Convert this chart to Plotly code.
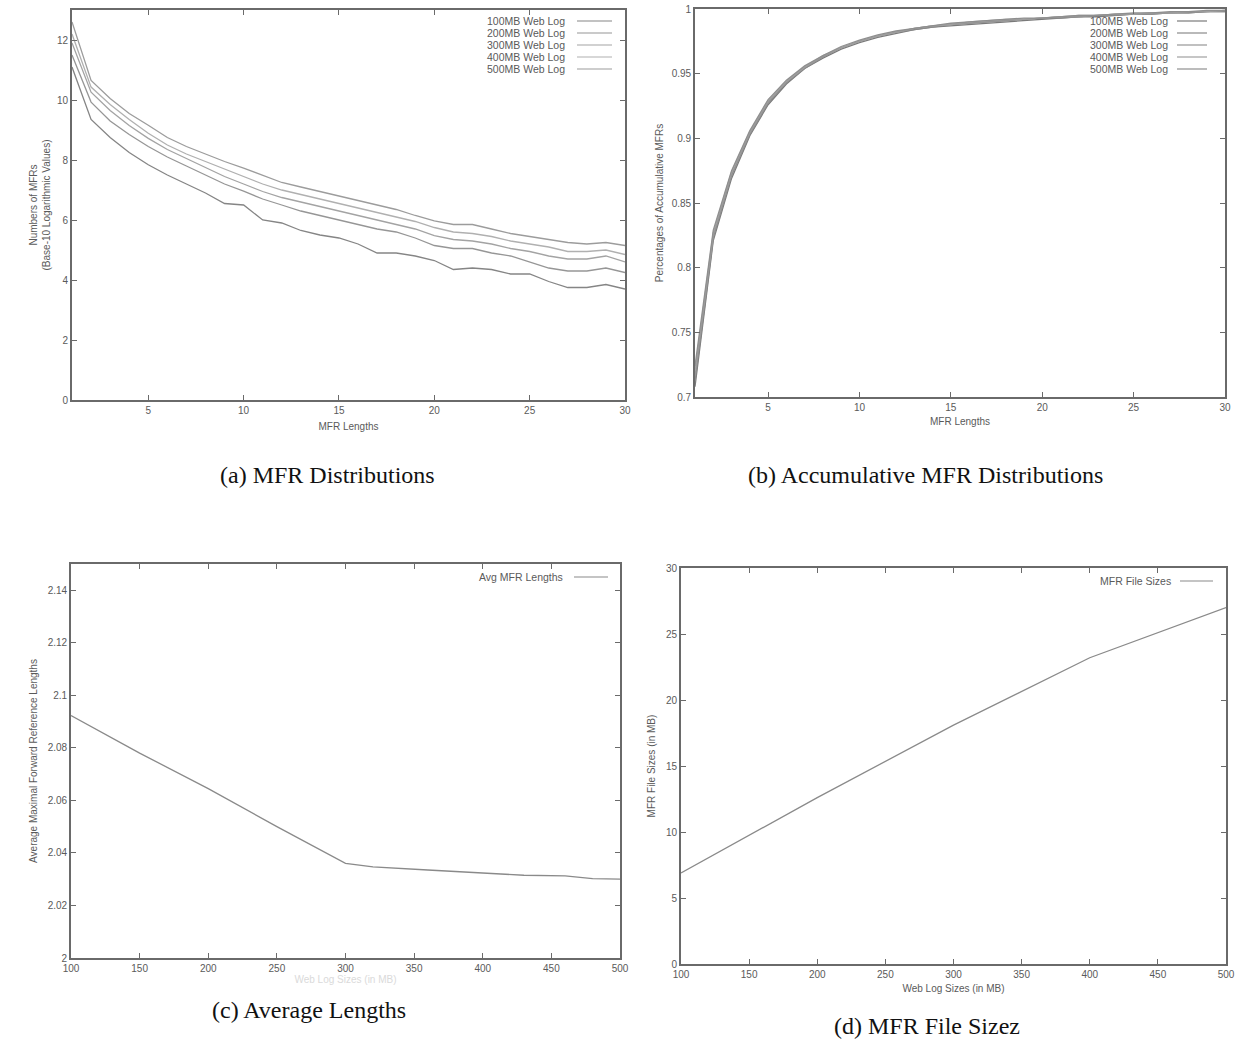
import plotly.graph_objects as go

W, H = 1238, 1042

# ---------------- data ----------------
mfr_lengths = list(range(1, 31))
series_names = ["100MB Web Log", "200MB Web Log", "300MB Web Log", "400MB Web Log", "500MB Web Log"]

# (a) MFR distributions (base-10 log of counts)
dist_100 = [11.1, 9.35, 8.75, 8.25, 7.84, 7.5, 7.2, 6.9, 6.55, 6.5, 6.0, 5.9, 5.65, 5.5, 5.4,
            5.2, 4.9, 4.9, 4.8, 4.65, 4.35, 4.4, 4.35, 4.2, 4.2, 3.95, 3.75, 3.75, 3.85, 3.7]
dist_200 = [11.5, 9.93, 9.3, 8.85, 8.45, 8.1, 7.8, 7.5, 7.2, 6.96, 6.7, 6.5, 6.3, 6.15, 6.0,
            5.85, 5.7, 5.6, 5.4, 5.15, 5.05, 5.05, 4.9, 4.8, 4.6, 4.4, 4.3, 4.3, 4.4, 4.25]
dist_300 = [11.9, 10.26, 9.65, 9.15, 8.72, 8.35, 8.05, 7.75, 7.45, 7.2, 6.95, 6.75, 6.6, 6.45, 6.3,
            6.15, 6.0, 5.85, 5.7, 5.48, 5.35, 5.3, 5.2, 5.05, 4.95, 4.8, 4.7, 4.7, 4.8, 4.6]
dist_400 = [12.2, 10.43, 9.85, 9.35, 8.89, 8.5, 8.2, 7.95, 7.7, 7.46, 7.2, 7.0, 6.85, 6.7, 6.55,
            6.4, 6.25, 6.1, 5.95, 5.75, 5.6, 5.55, 5.45, 5.3, 5.2, 5.1, 4.95, 4.95, 5.0, 4.85]
dist_500 = [12.6, 10.65, 10.05, 9.55, 9.16, 8.75, 8.45, 8.2, 7.95, 7.73, 7.5, 7.25, 7.1, 6.95, 6.8,
            6.65, 6.5, 6.35, 6.15, 5.97, 5.85, 5.85, 5.7, 5.55, 5.45, 5.35, 5.25, 5.2, 5.25, 5.15]

# (b) accumulative MFR distributions
acc_100 = [0.708, 0.821, 0.869, 0.902, 0.926, 0.942, 0.954, 0.962, 0.969, 0.974, 0.978, 0.981, 0.984, 0.986, 0.987,
           0.988, 0.989, 0.990, 0.991, 0.992, 0.993, 0.994, 0.994, 0.995, 0.996, 0.996, 0.997, 0.997, 0.998, 0.998]
acc_200 = [0.712, 0.823, 0.871, 0.903, 0.927, 0.943, 0.954, 0.963, 0.970, 0.975, 0.979, 0.982, 0.984, 0.986, 0.988,
           0.989, 0.990, 0.991, 0.992, 0.993, 0.993, 0.994, 0.995, 0.995, 0.996, 0.996, 0.997, 0.997, 0.998, 0.998]
acc_300 = [0.716, 0.825, 0.872, 0.904, 0.928, 0.944, 0.955, 0.963, 0.970, 0.975, 0.979, 0.982, 0.985, 0.987, 0.988,
           0.989, 0.990, 0.991, 0.992, 0.993, 0.994, 0.994, 0.995, 0.996, 0.996, 0.997, 0.997, 0.998, 0.998, 0.999]
acc_400 = [0.720, 0.827, 0.874, 0.905, 0.929, 0.944, 0.955, 0.964, 0.970, 0.975, 0.979, 0.982, 0.985, 0.987, 0.988,
           0.990, 0.991, 0.992, 0.992, 0.993, 0.994, 0.995, 0.995, 0.996, 0.996, 0.997, 0.997, 0.998, 0.998, 0.999]
acc_500 = [0.724, 0.829, 0.875, 0.906, 0.930, 0.945, 0.956, 0.964, 0.971, 0.976, 0.980, 0.983, 0.985, 0.987, 0.989,
           0.990, 0.991, 0.992, 0.993, 0.993, 0.994, 0.995, 0.995, 0.996, 0.997, 0.997, 0.998, 0.998, 0.999, 0.999]

# (c) average MFR lengths vs web log size
log_sizes_c = [100, 150, 200, 250, 300, 320, 360, 400, 430, 460, 480, 500]
avg_lengths = [2.0923, 2.078, 2.0645, 2.050, 2.036, 2.0347, 2.0335, 2.0325, 2.0315, 2.0313, 2.0302, 2.0300]

# (d) MFR file sizes vs web log size
log_sizes_d = [100, 200, 300, 400, 500]
file_sizes = [6.9, 12.6, 18.1, 23.2, 27.0]

# tick values
ticks_a_x = [5, 10, 15, 20, 25, 30]
ticks_a_y = [0, 2, 4, 6, 8, 10, 12]
ticks_b_y = [0.7, 0.75, 0.8, 0.85, 0.9, 0.95, 1]
ticks_c_x = [100, 150, 200, 250, 300, 350, 400, 450, 500]
ticks_c_y = [2, 2.02, 2.04, 2.06, 2.08, 2.1, 2.12, 2.14]
ticks_d_y = [0, 5, 10, 15, 20, 25, 30]

captions = ["(a) MFR Distributions", "(b) Accumulative MFR Distributions",
            "(c) Average Lengths", "(d) MFR File Sizez"]

# ---------------- style ----------------
SANS = "Liberation Sans, Arial, sans-serif"
SERIF = "Liberation Serif, Times New Roman, serif"
AXC = "#6a6a6a"
TXT = "#5a5a5a"
series_colors = ["#858585", "#969696", "#a3a3a3", "#b0b0b0", "#9c9c9c"]
acc_colors = ["#7a7a7a", "#8a8a8a", "#959595", "#a0a0a0", "#8f8f8f"]


def px_x(p):
    return p / W


def px_y(p):
    return 1 - p / H


fig = go.Figure()

dist_sets = [dist_100, dist_200, dist_300, dist_400, dist_500]
acc_sets = [acc_100, acc_200, acc_300, acc_400, acc_500]

for name, ys, c in zip(series_names, dist_sets, series_colors):
    fig.add_trace(go.Scatter(x=mfr_lengths, y=ys, mode="lines", name=name, showlegend=False,
                             line=dict(color=c, width=1.3), xaxis="x", yaxis="y"))
for name, ys, c in zip(series_names, acc_sets, acc_colors):
    fig.add_trace(go.Scatter(x=mfr_lengths, y=ys, mode="lines", name=name, showlegend=False,
                             line=dict(color=c, width=1.3), xaxis="x2", yaxis="y2"))
fig.add_trace(go.Scatter(x=log_sizes_c, y=avg_lengths, mode="lines", name="Avg MFR Lengths",
                         showlegend=False, line=dict(color="#8a8a8a", width=1.3), xaxis="x3", yaxis="y3"))
fig.add_trace(go.Scatter(x=log_sizes_d, y=file_sizes, mode="lines", name="MFR File Sizes",
                         showlegend=False, line=dict(color="#8a8a8a", width=1.3), xaxis="x4", yaxis="y4"))


def axis(domain, rng, tickvals, title, standoff, anchor, title_color=TXT):
    return dict(domain=domain, range=rng, tickvals=tickvals, ticks="inside", ticklen=5,
                tickcolor=AXC, tickwidth=1.2, showline=True, linecolor=AXC, linewidth=1.8,
                mirror="ticks", showgrid=False, zeroline=False, anchor=anchor,
                tickfont=dict(family=SANS, size=10, color=TXT),
                title=dict(text=title, font=dict(family=SANS, size=10, color=title_color),
                           standoff=standoff),
                automargin=False)


# domains (pixel based)
dom = {
    "a": ([px_x(72), px_x(625)], [px_y(400), px_y(10)]),
    "b": ([px_x(695), px_x(1225)], [px_y(397), px_y(9)]),
    "c": ([px_x(71), px_x(620)], [px_y(958), px_y(564)]),
    "d": ([px_x(681), px_x(1226)], [px_y(964), px_y(568)]),
}

fig.update_layout(
    width=W, height=H, margin=dict(l=0, r=0, t=0, b=0),
    paper_bgcolor="white", plot_bgcolor="white", showlegend=False,
    xaxis=axis(dom["a"][0], [1, 30], ticks_a_x, "MFR Lengths", 8, "y"),
    yaxis=axis(dom["a"][1], [0, 13], ticks_a_y, "Numbers of MFRs<br>(Base-10 Logarithmic Values)", 4, "x"),
    xaxis2=axis(dom["b"][0], [1, 30], ticks_a_x, "MFR Lengths", 6, "y2"),
    yaxis2=axis(dom["b"][1], [0.7, 1], ticks_b_y, "Percentages of Accumulative MFRs", 6, "x2"),
    xaxis3=axis(dom["c"][0], [100, 500], ticks_c_x, "Web Log Sizes (in MB)", 1, "y3", title_color="#dadada"),
    yaxis3=axis(dom["c"][1], [2, 2.15], ticks_c_y, "Average Maximal Forward Reference Lengths", 8, "x3"),
    xaxis4=axis(dom["d"][0], [100, 500], ticks_c_x, "Web Log Sizes (in MB)", 6, "y4"),
    yaxis4=axis(dom["d"][1], [0, 30], ticks_d_y, "MFR File Sizes (in MB)", 8, "x4"),
)

annotations = []
shapes = []


def key(text, right_px, y_px, x0_px, x1_px, color):
    annotations.append(dict(text=text, x=px_x(right_px), y=px_y(y_px), xref="paper", yref="paper",
                            xanchor="right", yanchor="middle", showarrow=False,
                            font=dict(family=SANS, size=10.5, color=TXT)))
    shapes.append(dict(type="line", xref="paper", yref="paper", x0=px_x(x0_px), x1=px_x(x1_px),
                       y0=px_y(y_px), y1=px_y(y_px), line=dict(color=color, width=1.2)))


for i, (name, c) in enumerate(zip(series_names, series_colors)):
    key(name, 567, 21 + 12 * i, 577, 612, c)
for i, (name, c) in enumerate(zip(series_names, acc_colors)):
    key(name, 1170, 21 + 12 * i, 1177, 1207, c)
key("Avg MFR Lengths", 565, 577, 574, 608, "#8a8a8a")
key("MFR File Sizes", 1173, 581, 1180, 1213, "#8a8a8a")

cap_pos = [(327, 475), (925, 475), (309, 1010), (927, 1026)]
for text, (cx, cy) in zip(captions, cap_pos):
    annotations.append(dict(text=text, x=px_x(cx), y=px_y(cy), xref="paper", yref="paper",
                            xanchor="center", yanchor="middle", showarrow=False,
                            font=dict(family=SERIF, size=24, color="#111111")))

fig.update_layout(annotations=annotations, shapes=shapes)

fig.write_html("out.html")
